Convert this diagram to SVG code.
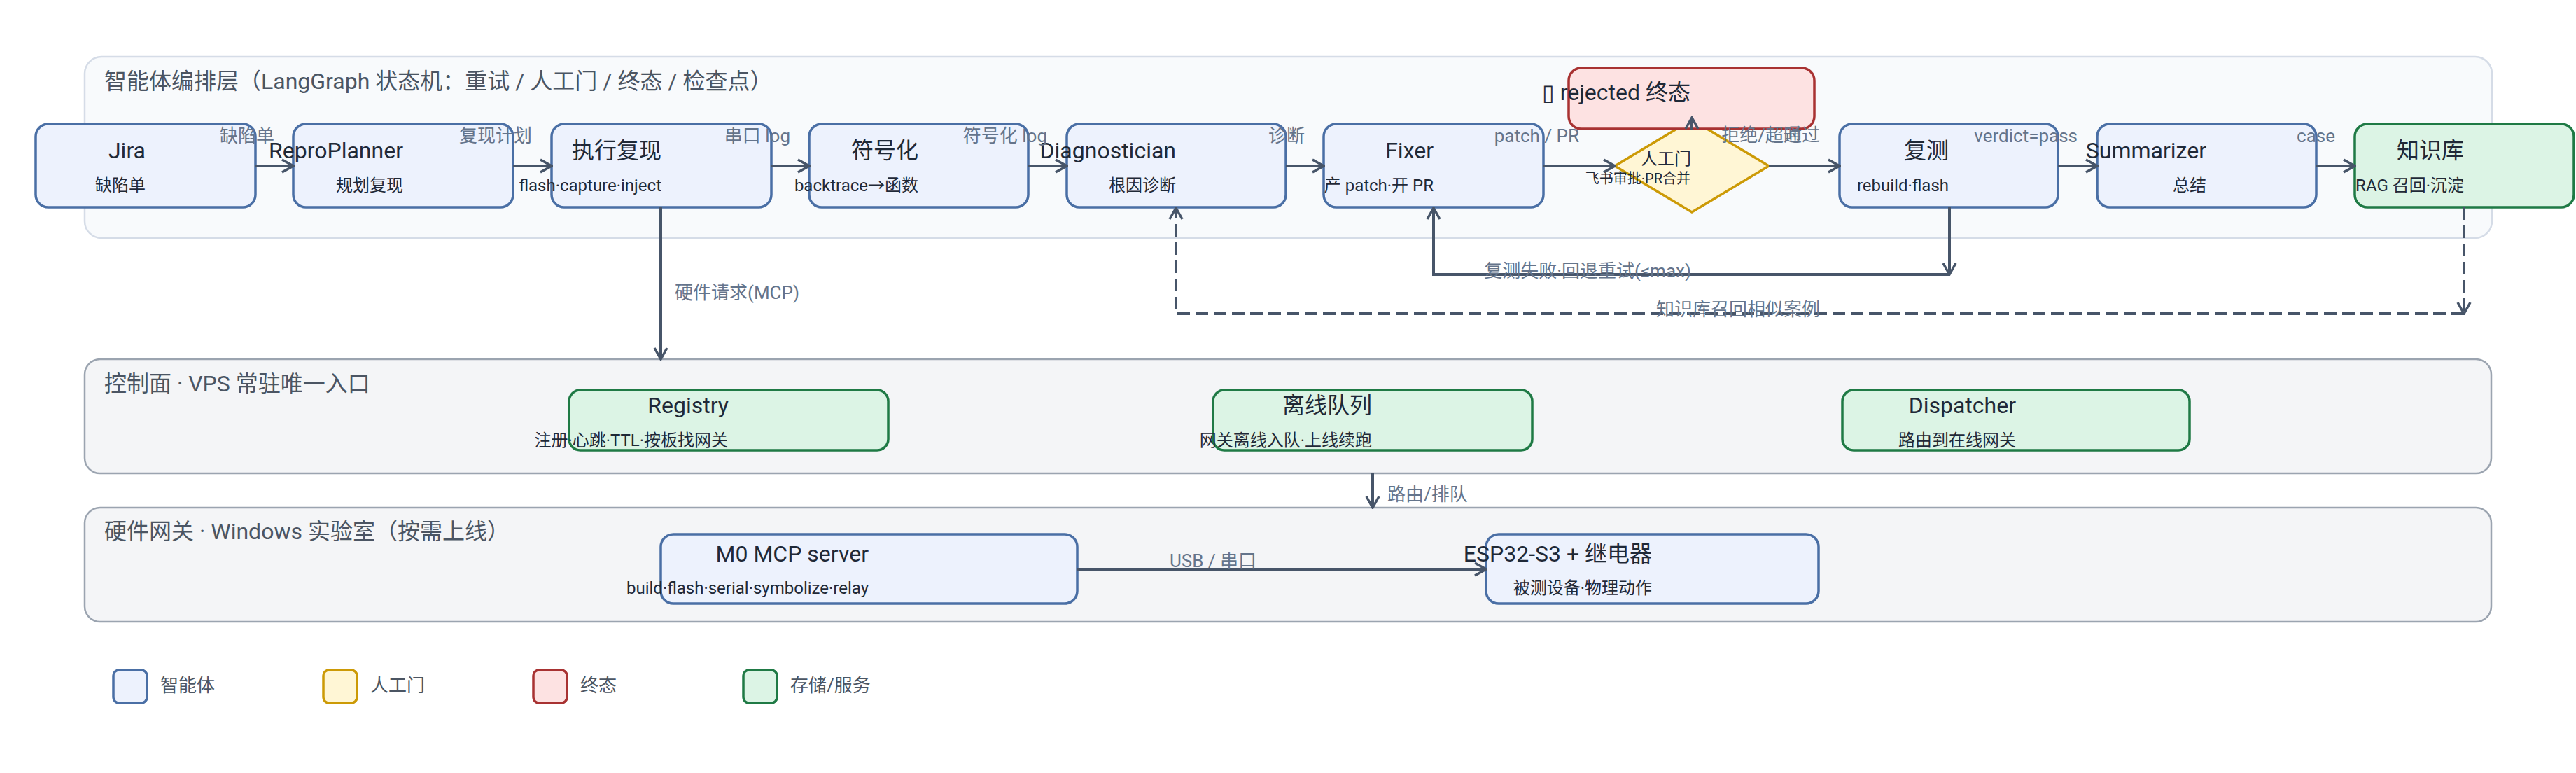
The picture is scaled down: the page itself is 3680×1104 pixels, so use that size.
<svg xmlns="http://www.w3.org/2000/svg" width="3680" height="1104" viewBox="0 0 3680 1104">
<defs>
<style>
text{font-family:Roboto,"Noto Sans CJK SC",sans-serif}
.layer-orch{fill:#f8fafc;stroke:#d5dce7;stroke-width:2.5}
.layer{fill:#f4f5f7;stroke:#9ba4b0;stroke-width:2.5}
.ltitle{font-size:32px;fill:#4b5563}
.agent{fill:#edf2fd;stroke:#4a6fa5;stroke-width:3.5}
.gate{fill:#fff6d5;stroke:#cc9a06;stroke-width:3.5}
.term{fill:#fde2e2;stroke:#a83232;stroke-width:3.5}
.store{fill:#dcf4e5;stroke:#1f7a45;stroke-width:3.5}
.t{font-size:32px;fill:#1f2937;text-anchor:end}
.s{font-size:24px;fill:#1f2937;text-anchor:end}
.edge{fill:none;stroke:#475569;stroke-width:4}
.dash{stroke-dasharray:18 8}
.el{font-size:26px;fill:#64748b;text-anchor:end}
.els{font-size:26px;fill:#64748b}
.leg{font-size:26px;fill:#4b5563}
</style>
<marker id="arr" markerUnits="userSpaceOnUse" viewBox="0 0 20 22" refX="18" refY="11" markerWidth="20" markerHeight="22" orient="auto">
<path d="M2,2 L18,11 L2,20" fill="none" stroke="#475569" stroke-width="3.5"/>
</marker>
</defs>
<rect width="3680" height="1104" fill="#ffffff"/>

<g id="layer-orchestration">
<rect class="layer-orch" x="121" y="81" width="3439" height="259" rx="24"/>
<text class="ltitle" x="149" y="127">智能体编排层（LangGraph 状态机：重试 / 人工门 / 终态 / 检查点）</text>
</g>
<g id="layer-control">
<rect class="layer" x="121" y="513" width="3438" height="163" rx="22"/>
<text class="ltitle" x="149" y="559">控制面 · VPS 常驻唯一入口</text>
</g>
<g id="layer-hardware">
<rect class="layer" x="121" y="725" width="3438" height="163" rx="22"/>
<text class="ltitle" x="149" y="770">硬件网关 · Windows 实验室（按需上线）</text>
</g>

<g id="node-jira"><rect class="agent" x="51" y="177" width="314" height="119" rx="18"/><text class="t" x="208" y="226">Jira</text><text class="s" x="208" y="273">缺陷单</text></g>
<g id="node-reproplanner"><rect class="agent" x="419" y="177" width="314" height="119" rx="18"/><text class="t" x="576" y="226">ReproPlanner</text><text class="s" x="576" y="273">规划复现</text></g>
<g id="node-execute"><rect class="agent" x="788" y="177" width="314" height="119" rx="18"/><text class="t" x="945" y="226">执行复现</text><text class="s" x="945" y="273">flash·capture·inject</text></g>
<g id="node-symbolize"><rect class="agent" x="1156" y="177" width="313" height="119" rx="18"/><text class="t" x="1312" y="226">符号化</text><text class="s" x="1312" y="273">backtrace→函数</text></g>
<g id="node-diagnostician"><rect class="agent" x="1524" y="177" width="313" height="119" rx="18"/><text class="t" x="1680" y="226">Diagnostician</text><text class="s" x="1680" y="273">根因诊断</text></g>
<g id="node-fixer"><rect class="agent" x="1891" y="177" width="314" height="119" rx="18"/><text class="t" x="2048" y="226">Fixer</text><text class="s" x="2048" y="273">产 patch·开 PR</text></g>
<g id="node-gate"><polygon class="gate" points="2417,171 2527,237 2417,303 2307,237"/><text class="t" x="2416" y="235" style="font-size:24px">人工门</text><text class="s" x="2415" y="262" style="font-size:20px">飞书审批·PR合并</text></g>
<g id="node-rejected"><rect class="term" x="2241" y="97" width="351" height="87" rx="18"/><text class="t" x="2415" y="143">▯ rejected 终态</text></g>
<g id="node-retest"><rect class="agent" x="2628" y="177" width="312" height="119" rx="18"/><text class="t" x="2784" y="226">复测</text><text class="s" x="2784" y="273">rebuild·flash</text></g>
<g id="node-summarizer"><rect class="agent" x="2996" y="177" width="313" height="119" rx="18"/><text class="t" x="3152" y="226">Summarizer</text><text class="s" x="3152" y="273">总结</text></g>
<g id="node-kb"><rect class="store" x="3364" y="177" width="313" height="119" rx="18"/><text class="t" x="3520" y="226">知识库</text><text class="s" x="3520" y="273">RAG 召回·沉淀</text></g>

<g id="node-registry"><rect class="store" x="813" y="557" width="456" height="86" rx="16"/><text class="t" x="1041" y="590">Registry</text><text class="s" x="1040" y="637">注册·心跳·TTL·按板找网关</text></g>
<g id="node-queue"><rect class="store" x="1733" y="557" width="456" height="86" rx="16"/><text class="t" x="1960" y="590">离线队列</text><text class="s" x="1960" y="637">网关离线入队·上线续跑</text></g>
<g id="node-dispatcher"><rect class="store" x="2632" y="557" width="496" height="86" rx="16"/><text class="t" x="2880" y="590">Dispatcher</text><text class="s" x="2880" y="637">路由到在线网关</text></g>

<g id="node-m0"><rect class="agent" x="944" y="763" width="595" height="99" rx="18"/><text class="t" x="1241" y="802">M0 MCP server</text><text class="s" x="1241" y="848">build·flash·serial·symbolize·relay</text></g>
<g id="node-esp32"><rect class="agent" x="2123" y="763" width="475" height="99" rx="18"/><text class="t" x="2360" y="802">ESP32-S3 + 继电器</text><text class="s" x="2360" y="848">被测设备·物理动作</text></g>

<g id="connectors">
<path class="edge" d="M365,237 H419" marker-end="url(#arr)"/>
<path class="edge" d="M733,237 H788" marker-end="url(#arr)"/>
<path class="edge" d="M1102,237 H1156" marker-end="url(#arr)"/>
<path class="edge" d="M1469,237 H1524" marker-end="url(#arr)"/>
<path class="edge" d="M1837,237 H1891" marker-end="url(#arr)"/>
<path class="edge" d="M2205,237 H2307" marker-end="url(#arr)"/>
<path class="edge" d="M2527,237 H2628" marker-end="url(#arr)"/>
<path class="edge" d="M2940,237 H2996" marker-end="url(#arr)"/>
<path class="edge" d="M3309,237 H3364" marker-end="url(#arr)"/>
<path class="edge" d="M2417,186 V168" marker-end="url(#arr)"/>
<path class="edge" d="M2785,296 V392" marker-end="url(#arr)"/>
<path class="edge" d="M2785,392 H2048 V297" marker-end="url(#arr)"/>
<path class="edge dash" d="M3520,296 V448" marker-end="url(#arr)"/>
<path class="edge dash" d="M3520,448 H1680 V297" marker-end="url(#arr)"/>
<path class="edge" d="M944,296 V513" marker-end="url(#arr)"/>
<path class="edge" d="M1961,676 V725" marker-end="url(#arr)"/>
<path class="edge" d="M1539,813 H2123" marker-end="url(#arr)"/>
<text class="el" x="392" y="203">缺陷单</text>
<text class="el" x="760" y="203">复现计划</text>
<text class="el" x="1129" y="203">串口 log</text>
<text class="el" x="1496" y="203">符号化 log</text>
<text class="el" x="1864" y="203">诊断</text>
<text class="el" x="2256" y="203">patch / PR</text>
<text class="el" x="2574" y="202">拒绝/超时</text>
<text class="el" x="2600" y="202">通过</text>
<text class="el" x="2968" y="203">verdict=pass</text>
<text class="el" x="3336" y="203">case</text>
<text class="el" x="2416" y="396">复测失败·回退重试(≤max)</text>
<text class="el" x="2600" y="451">知识库召回相似案例</text>
<text class="els" x="964" y="427">硬件请求(MCP)</text>
<text class="els" x="1982" y="715">路由/排队</text>
<text class="els" x="1671" y="810">USB / 串口</text>
</g>

<g id="legend">
<rect class="agent" x="162" y="957" width="48" height="47" rx="8"/><text class="leg" x="229" y="988">智能体</text>
<rect class="gate" x="462" y="957" width="48" height="47" rx="8"/><text class="leg" x="529" y="988">人工门</text>
<rect class="term" x="762" y="957" width="48" height="47" rx="8"/><text class="leg" x="829" y="988">终态</text>
<rect class="store" x="1062" y="957" width="48" height="47" rx="8"/><text class="leg" x="1129" y="988">存储/服务</text>
</g>
</svg>
